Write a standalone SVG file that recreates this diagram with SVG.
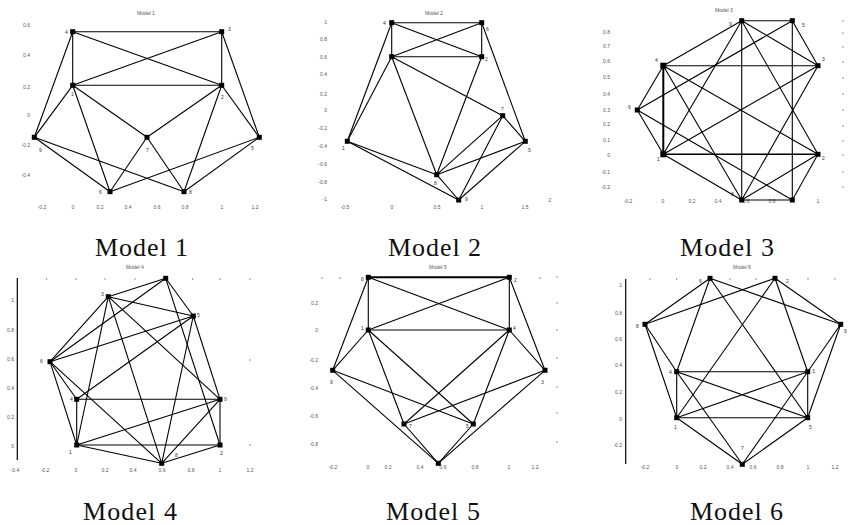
<svg xmlns="http://www.w3.org/2000/svg" width="856" height="525" viewBox="0 0 856 525">
<style>
.e{stroke:#000;stroke-width:1.1;fill:none}
.th{stroke-width:2}
.n rect{fill:#000}
.l{font-family:"Liberation Sans",Arial,sans-serif;font-size:5px;fill:#333}
.tl{font-family:"Liberation Sans",Arial,sans-serif;font-size:5px;fill:#555;text-anchor:middle}
.yl{font-family:"Liberation Sans",Arial,sans-serif;font-size:5px;fill:#555;text-anchor:end}
.cap{font-family:"Liberation Serif","DejaVu Serif",serif;font-size:26px;fill:#111}
.ax{stroke:#000;stroke-width:1.2}
.tk{stroke:#777;stroke-width:0.8}
</style>
<rect width="856" height="525" fill="#fff"/>

<!-- ===== Axes / ticks ===== -->
<g id="axes">
  <!-- Model 1 -->
  <text class="tl" x="146" y="15">Model 1</text>
  <g class="yl"><text x="30" y="27">0.6</text><text x="30" y="57">0.4</text><text x="30" y="89">0.2</text><text x="30" y="117">0</text><text x="30" y="147">-0.2</text><text x="30" y="177">-0.4</text></g>
  <g class="tl"><text x="42" y="209">-0.2</text><text x="73" y="209">0</text><text x="100" y="209">0.2</text><text x="128" y="209">0.4</text><text x="157" y="209">0.6</text><text x="185" y="209">0.8</text><text x="222" y="209">1</text><text x="255" y="209">1.2</text></g>
  <!-- Model 2 -->
  <text class="tl" x="434" y="15">Model 2</text>
  <g class="yl"><text x="327" y="24">1</text><text x="327" y="41">0.8</text><text x="327" y="59">0.6</text><text x="327" y="76">0.4</text><text x="327" y="96">0.2</text><text x="327" y="112">0</text><text x="327" y="130">-0.2</text><text x="327" y="148">-0.4</text><text x="327" y="166">-0.6</text><text x="327" y="184">-0.8</text><text x="327" y="201">-1</text></g>
  <g class="tl"><text x="345" y="209">-0.5</text><text x="392" y="209">0</text><text x="437" y="209">0.5</text><text x="482" y="209">1</text><text x="525" y="209">1.5</text><text x="550" y="202">2</text></g>
  <!-- Model 3 -->
  <text class="tl" x="724" y="12">Model 3</text>
  <g class="yl"><text x="610" y="34">0.8</text><text x="610" y="48">0.7</text><text x="610" y="63">0.6</text><text x="610" y="79">0.5</text><text x="610" y="96">0.4</text><text x="610" y="112">0.3</text><text x="610" y="126">0.2</text><text x="610" y="142">0.1</text><text x="610" y="157">0</text><text x="610" y="174">-0.1</text><text x="610" y="189">-0.2</text></g>
  <g class="tl"><text x="628" y="203">-0.2</text><text x="663" y="203">0</text><text x="692" y="203">0.2</text><text x="718" y="203">0.4</text><text x="746" y="203">0.6</text><text x="772" y="203">0.8</text><text x="818" y="203">1</text></g>
  <g class="tk"><line x1="842" y1="21" x2="844" y2="21"/><line x1="842" y1="33" x2="844" y2="33"/><line x1="842" y1="47" x2="844" y2="47"/><line x1="842" y1="62" x2="844" y2="62"/><line x1="842" y1="78" x2="844" y2="78"/><line x1="842" y1="94" x2="844" y2="94"/><line x1="842" y1="110" x2="844" y2="110"/><line x1="842" y1="126" x2="844" y2="126"/><line x1="842" y1="141" x2="844" y2="141"/><line x1="842" y1="155" x2="844" y2="155"/><line x1="842" y1="172" x2="844" y2="172"/><line x1="842" y1="187" x2="844" y2="187"/></g>
  <!-- Model 4 -->
  <text class="tl" x="135" y="269">Model 4</text>
  <line class="ax" x1="17.3" y1="278" x2="17.3" y2="460"/>
  <g class="yl"><text x="14" y="302">1</text><text x="14" y="332">0.8</text><text x="14" y="361">0.6</text><text x="14" y="390">0.4</text><text x="14" y="419">0.2</text><text x="14" y="448">0</text></g>
  <g class="tl"><text x="15" y="472">-0.4</text><text x="45" y="472">-0.2</text><text x="76" y="472">0</text><text x="105" y="472">0.2</text><text x="133" y="472">0.4</text><text x="162" y="472">0.6</text><text x="191" y="472">0.8</text><text x="220" y="472">1</text><text x="250" y="472">1.2</text></g>
  <g class="tk"><line x1="46.7" y1="278" x2="46.7" y2="280"/><line x1="76" y1="278" x2="76" y2="280"/><line x1="105" y1="278" x2="105" y2="280"/><line x1="135" y1="278" x2="135" y2="280"/><line x1="192.7" y1="278" x2="192.7" y2="280"/><line x1="220" y1="278" x2="220" y2="280"/><line x1="250" y1="278" x2="250" y2="280"/><line x1="249" y1="360" x2="251" y2="360"/><line x1="249" y1="445" x2="251" y2="445"/></g>
  <!-- Model 5 -->
  <text class="tl" x="438" y="269">Model 5</text>
  <g class="yl"><text x="318" y="305">0.2</text><text x="318" y="332">0</text><text x="318" y="362">-0.2</text><text x="318" y="390">-0.4</text><text x="318" y="418">-0.6</text><text x="318" y="446">-0.8</text></g>
  <g class="tl"><text x="333" y="469">-0.2</text><text x="368" y="469">0</text><text x="388" y="469">0.2</text><text x="420" y="469">0.4</text><text x="443" y="469">0.6</text><text x="475" y="469">0.8</text><text x="509" y="469">1</text><text x="535" y="469">1.2</text></g>
  <g class="tk"><line x1="322" y1="277" x2="322" y2="279"/><line x1="340" y1="277" x2="340" y2="279"/><line x1="540" y1="277" x2="540" y2="279"/><line x1="556" y1="277" x2="558" y2="277"/><line x1="556" y1="303" x2="558" y2="303"/><line x1="556" y1="330" x2="558" y2="330"/><line x1="556" y1="358" x2="558" y2="358"/><line x1="556" y1="387" x2="558" y2="387"/><line x1="556" y1="413" x2="558" y2="413"/><line x1="556" y1="442" x2="558" y2="442"/></g>
  <!-- Model 6 -->
  <text class="tl" x="742" y="269">Model 6</text>
  <line class="ax" x1="625.7" y1="279" x2="625.7" y2="464"/>
  <g class="yl"><text x="622" y="287">1</text><text x="622" y="315">0.8</text><text x="622" y="341">0.6</text><text x="622" y="367">0.4</text><text x="622" y="394">0.2</text><text x="622" y="421">0</text><text x="622" y="447">-0.2</text></g>
  <g class="tl"><text x="645" y="469">-0.2</text><text x="677" y="469">0</text><text x="703" y="469">0.2</text><text x="730" y="469">0.4</text><text x="753" y="469">0.6</text><text x="780" y="469">0.8</text><text x="808" y="469">1</text><text x="835" y="469">1.2</text></g>
  <g class="tk"><line x1="650" y1="278" x2="650" y2="280"/><line x1="676.7" y1="278" x2="676.7" y2="280"/><line x1="730" y1="278" x2="730" y2="280"/><line x1="756" y1="278" x2="756" y2="280"/><line x1="808" y1="278" x2="808" y2="280"/><line x1="835" y1="278" x2="835" y2="280"/></g>
</g>

<!-- ===== Connectors ===== -->
<g id="connectors" class="e">
  <!-- Model 1 -->
  <line x1="72.7" y1="31.7" x2="221.7" y2="31.7"/>
  <line x1="72.7" y1="31.7" x2="72.7" y2="85.3"/>
  <line x1="221.7" y1="31.7" x2="221.7" y2="85.3"/>
  <line x1="72.7" y1="85.3" x2="221.7" y2="85.3"/>
  <line x1="72.7" y1="31.7" x2="221.7" y2="85.3"/>
  <line x1="221.7" y1="31.7" x2="72.7" y2="85.3"/>
  <line x1="72.7" y1="31.7" x2="34.3" y2="137.3"/>
  <line x1="221.7" y1="31.7" x2="259.3" y2="137.3"/>
  <line x1="72.7" y1="85.3" x2="34.3" y2="137.3"/>
  <line x1="72.7" y1="85.3" x2="110" y2="191.7"/>
  <line x1="72.7" y1="85.3" x2="147" y2="137.3"/>
  <line x1="221.7" y1="85.3" x2="147" y2="137.3"/>
  <line x1="221.7" y1="85.3" x2="184" y2="191.7"/>
  <line x1="221.7" y1="85.3" x2="259.3" y2="137.3"/>
  <line x1="34.3" y1="137.3" x2="110" y2="191.7"/>
  <line x1="34.3" y1="137.3" x2="184" y2="191.7"/>
  <line x1="259.3" y1="137.3" x2="110" y2="191.7"/>
  <line x1="259.3" y1="137.3" x2="184" y2="191.7"/>
  <line x1="147" y1="137.3" x2="110" y2="191.7"/>
  <line x1="147" y1="137.3" x2="184" y2="191.7"/>
  <!-- Model 2 -->
  <line x1="391.7" y1="22.7" x2="481.7" y2="22.7"/>
  <line x1="391.7" y1="22.7" x2="391.7" y2="56.7"/>
  <line x1="481.7" y1="22.7" x2="481.7" y2="56.7"/>
  <line x1="391.7" y1="56.7" x2="481.7" y2="56.7"/>
  <line x1="391.7" y1="22.7" x2="481.7" y2="56.7"/>
  <line x1="481.7" y1="22.7" x2="391.7" y2="56.7"/>
  <line x1="391.7" y1="22.7" x2="347.3" y2="141.3"/>
  <line x1="391.7" y1="56.7" x2="347.3" y2="141.3"/>
  <line x1="481.7" y1="22.7" x2="525.3" y2="141.3"/>
  <line x1="391.7" y1="56.7" x2="436.7" y2="174.7"/>
  <line x1="391.7" y1="56.7" x2="502.7" y2="115.7"/>
  <line x1="481.7" y1="56.7" x2="436.7" y2="174.7"/>
  <line x1="347.3" y1="141.3" x2="436.7" y2="174.7"/>
  <line x1="347.3" y1="141.3" x2="458.7" y2="200"/>
  <line x1="436.7" y1="174.7" x2="458.7" y2="200"/>
  <line x1="436.7" y1="174.7" x2="502.7" y2="115.7"/>
  <line x1="436.7" y1="174.7" x2="525.3" y2="141.3"/>
  <line x1="502.7" y1="115.7" x2="525.3" y2="141.3"/>
  <line x1="502.7" y1="115.7" x2="458.7" y2="200"/>
  <line x1="525.3" y1="141.3" x2="458.7" y2="200"/>
  <!-- Model 3 -->
  <line x1="741.7" y1="20.7" x2="792.3" y2="20.7"/>
  <line x1="741.7" y1="200" x2="792.3" y2="200"/>
  <line x1="663.3" y1="65.7" x2="818" y2="65.7"/>
  <line x1="663.3" y1="154.3" x2="818" y2="154.3" style="stroke-width:1.6"/>
  <line class="th" x1="663.3" y1="65.7" x2="663.3" y2="154.3"/>
  <line x1="741.7" y1="20.7" x2="741.7" y2="200"/>
  <line x1="792.3" y1="20.7" x2="792.3" y2="200"/>
  <line x1="741.7" y1="20.7" x2="663.3" y2="65.7"/>
  <line x1="741.7" y1="200" x2="663.3" y2="154.3"/>
  <line x1="792.3" y1="20.7" x2="818" y2="65.7"/>
  <line x1="792.3" y1="200" x2="818" y2="154.3"/>
  <line x1="741.7" y1="20.7" x2="818" y2="65.7"/>
  <line x1="741.7" y1="200" x2="818" y2="154.3"/>
  <line x1="792.3" y1="20.7" x2="637.3" y2="110"/>
  <line x1="792.3" y1="200" x2="637.3" y2="110"/>
  <line x1="741.7" y1="20.7" x2="663.3" y2="154.3"/>
  <line x1="741.7" y1="200" x2="663.3" y2="65.7"/>
  <line x1="741.7" y1="20.7" x2="818" y2="154.3"/>
  <line x1="741.7" y1="200" x2="818" y2="65.7"/>
  <line x1="663.3" y1="65.7" x2="637.3" y2="110"/>
  <line x1="663.3" y1="154.3" x2="637.3" y2="110"/>
  <line x1="663.3" y1="65.7" x2="818" y2="154.3"/>
  <line x1="663.3" y1="154.3" x2="818" y2="65.7"/>
  <!-- Model 4 -->
  <line x1="165.7" y1="278.3" x2="108.3" y2="296.7"/>
  <line x1="108.3" y1="296.7" x2="50" y2="361.7"/>
  <line x1="165.7" y1="278.3" x2="50" y2="361.7"/>
  <line x1="50" y1="361.7" x2="193.3" y2="316"/>
  <line x1="108.3" y1="296.7" x2="193.3" y2="316"/>
  <line x1="165.7" y1="278.3" x2="193.3" y2="316"/>
  <line x1="193.3" y1="316" x2="220" y2="399.3"/>
  <line x1="76.7" y1="399.3" x2="193.3" y2="316"/>
  <line x1="193.3" y1="316" x2="161.7" y2="463.3"/>
  <line x1="108.3" y1="296.7" x2="76.7" y2="445"/>
  <line x1="108.3" y1="296.7" x2="161.7" y2="463.3"/>
  <line x1="108.3" y1="296.7" x2="220" y2="399.3"/>
  <line x1="165.7" y1="278.3" x2="220" y2="445"/>
  <line x1="50" y1="361.7" x2="76.7" y2="399.3"/>
  <line x1="50" y1="361.7" x2="76.7" y2="445"/>
  <line x1="50" y1="361.7" x2="161.7" y2="463.3"/>
  <line x1="76.7" y1="399.3" x2="220" y2="399.3"/>
  <line x1="76.7" y1="399.3" x2="76.7" y2="445"/>
  <line x1="76.7" y1="445" x2="220" y2="445"/>
  <line x1="220" y1="399.3" x2="220" y2="445"/>
  <line x1="76.7" y1="445" x2="220" y2="399.3"/>
  <line x1="76.7" y1="445" x2="161.7" y2="463.3"/>
  <line x1="220" y1="445" x2="161.7" y2="463.3"/>
  <line x1="220" y1="399.3" x2="161.7" y2="463.3"/>
  <!-- Model 5 -->
  <line class="th" x1="368.3" y1="277.3" x2="509.3" y2="277.3"/>
  <line x1="368.3" y1="277.3" x2="368.3" y2="330"/>
  <line x1="509.3" y1="277.3" x2="509.3" y2="330"/>
  <line x1="368.3" y1="330" x2="509.3" y2="330"/>
  <line x1="368.3" y1="277.3" x2="509.3" y2="330"/>
  <line x1="509.3" y1="277.3" x2="368.3" y2="330"/>
  <line x1="368.3" y1="277.3" x2="332.7" y2="370.3"/>
  <line x1="509.3" y1="277.3" x2="545" y2="370.3"/>
  <line x1="368.3" y1="330" x2="332.7" y2="370.3"/>
  <line x1="509.3" y1="330" x2="545" y2="370.3"/>
  <line x1="368.3" y1="330" x2="404" y2="424"/>
  <line x1="368.3" y1="330" x2="473.3" y2="424"/>
  <line x1="509.3" y1="330" x2="404" y2="424"/>
  <line x1="509.3" y1="330" x2="473.3" y2="424"/>
  <line x1="332.7" y1="370.3" x2="473.3" y2="424"/>
  <line x1="332.7" y1="370.3" x2="438.3" y2="463.3"/>
  <line x1="545" y1="370.3" x2="404" y2="424"/>
  <line x1="545" y1="370.3" x2="438.3" y2="463.3"/>
  <line x1="404" y1="424" x2="438.3" y2="463.3"/>
  <line x1="473.3" y1="424" x2="438.3" y2="463.3"/>
  <!-- Model 6 -->
  <line x1="676.7" y1="371.7" x2="807.7" y2="371.7"/>
  <line x1="676.7" y1="417.7" x2="807.7" y2="417.7"/>
  <line x1="676.7" y1="371.7" x2="676.7" y2="417.7"/>
  <line x1="807.7" y1="371.7" x2="807.7" y2="417.7"/>
  <line x1="676.7" y1="371.7" x2="807.7" y2="417.7"/>
  <line x1="676.7" y1="417.7" x2="807.7" y2="371.7"/>
  <line x1="645" y1="324.3" x2="710" y2="278.3"/>
  <line x1="645" y1="324.3" x2="775" y2="278.3"/>
  <line x1="840.7" y1="324.3" x2="710" y2="278.3"/>
  <line x1="840.7" y1="324.3" x2="775" y2="278.3"/>
  <line x1="710" y1="278.3" x2="676.7" y2="371.7"/>
  <line x1="710" y1="278.3" x2="807.7" y2="417.7"/>
  <line x1="775" y1="278.3" x2="807.7" y2="371.7"/>
  <line x1="775" y1="278.3" x2="676.7" y2="417.7"/>
  <line x1="645" y1="324.3" x2="676.7" y2="371.7"/>
  <line x1="645" y1="324.3" x2="676.7" y2="417.7"/>
  <line x1="840.7" y1="324.3" x2="807.7" y2="371.7"/>
  <line x1="840.7" y1="324.3" x2="807.7" y2="417.7"/>
  <line x1="742.3" y1="464.3" x2="676.7" y2="417.7"/>
  <line x1="742.3" y1="464.3" x2="807.7" y2="417.7"/>
  <line x1="742.3" y1="464.3" x2="676.7" y2="371.7"/>
  <line x1="742.3" y1="464.3" x2="807.7" y2="371.7"/>
</g>

<!-- ===== Nodes ===== -->
<g id="model1-nodes" class="n">
  <g id="m1-4"><rect x="70.2" y="29.2" width="5" height="5"/><text class="l" x="65" y="34">4</text></g>
  <g id="m1-3"><rect x="219.2" y="29.2" width="5" height="5"/><text class="l" x="228" y="31">3</text></g>
  <g id="m1-1"><rect x="70.2" y="82.8" width="5" height="5"/><text class="l" x="71" y="96">1</text></g>
  <g id="m1-2"><rect x="219.2" y="82.8" width="5" height="5"/><text class="l" x="221" y="99">2</text></g>
  <g id="m1-9"><rect x="31.8" y="134.8" width="5" height="5"/><text class="l" x="39" y="152">9</text></g>
  <g id="m1-7"><rect x="144.5" y="134.8" width="5" height="5"/><text class="l" x="146" y="152">7</text></g>
  <g id="m1-5"><rect x="256.8" y="134.8" width="5" height="5"/><text class="l" x="251" y="150">5</text></g>
  <g id="m1-6"><rect x="107.5" y="189.2" width="5" height="5"/><text class="l" x="99" y="194">6</text></g>
  <g id="m1-8"><rect x="181.5" y="189.2" width="5" height="5"/><text class="l" x="189" y="194">8</text></g>
</g>
<g id="model2-nodes" class="n">
  <g id="m2-4"><rect x="389.2" y="20.2" width="5" height="5"/><text class="l" x="383" y="25">4</text></g>
  <g id="m2-6"><rect x="479.2" y="20.2" width="5" height="5"/><text class="l" x="486" y="31">6</text></g>
  <g id="m2-3"><rect x="389.2" y="54.2" width="5" height="5"/></g>
  <g id="m2-2"><rect x="479.2" y="54.2" width="5" height="5"/><text class="l" x="485" y="61">2</text></g>
  <g id="m2-7"><rect x="500.2" y="113.2" width="5" height="5"/><text class="l" x="501" y="111">7</text></g>
  <g id="m2-5"><rect x="522.8" y="138.8" width="5" height="5"/><text class="l" x="528" y="152">5</text></g>
  <g id="m2-1"><rect x="344.8" y="138.8" width="5" height="5"/><text class="l" x="342" y="150">1</text></g>
  <g id="m2-8"><rect x="434.2" y="172.2" width="5" height="5"/><text class="l" x="434" y="185">8</text></g>
  <g id="m2-9"><rect x="456.2" y="197.5" width="5" height="5"/><text class="l" x="465" y="201">9</text></g>
</g>
<g id="model3-nodes" class="n">
  <g id="m3-9"><rect x="739.2" y="18.2" width="5" height="5"/><text class="l" x="729" y="26">9</text></g>
  <g id="m3-5"><rect x="789.8" y="18.2" width="5" height="5"/><text class="l" x="802" y="27">5</text></g>
  <g id="m3-4"><rect x="660.3" y="62.7" width="6" height="6"/><text class="l" x="655" y="62">4</text></g>
  <g id="m3-3"><rect x="815.5" y="63.2" width="5" height="5"/><text class="l" x="822" y="61">3</text></g>
  <g id="m3-6"><rect x="634.8" y="107.5" width="5" height="5"/><text class="l" x="628" y="109">6</text></g>
  <g id="m3-1"><rect x="660.3" y="151.3" width="6" height="6"/><text class="l" x="657" y="161">1</text></g>
  <g id="m3-2"><rect x="815.5" y="151.8" width="5" height="5"/><text class="l" x="822" y="160">2</text></g>
  <g id="m3-8"><rect x="739.2" y="197.5" width="5" height="5"/><text class="l" x="731" y="196">8</text></g>
  <g id="m3-7"><rect x="789.8" y="197.5" width="5" height="5"/></g>
</g>
<g id="model4-nodes" class="n">
  <g id="m4-7"><rect x="163.2" y="275.8" width="5" height="5"/></g>
  <g id="m4-3"><rect x="105.8" y="294.2" width="5" height="5"/><text class="l" x="101" y="296">3</text></g>
  <g id="m4-5"><rect x="190.8" y="313.5" width="5" height="5"/><text class="l" x="197" y="317">5</text></g>
  <g id="m4-6"><rect x="47.5" y="359.2" width="5" height="5"/><text class="l" x="40" y="363">6</text></g>
  <g id="m4-4"><rect x="74.2" y="396.8" width="5" height="5"/><text class="l" x="70" y="401">4</text></g>
  <g id="m4-9"><rect x="217.5" y="396.8" width="5" height="5"/><text class="l" x="224" y="401">9</text></g>
  <g id="m4-1"><rect x="74.2" y="442.5" width="5" height="5"/><text class="l" x="69" y="454">1</text></g>
  <g id="m4-2"><rect x="217.5" y="442.5" width="5" height="5"/><text class="l" x="220" y="455">2</text></g>
  <g id="m4-8"><rect x="159.2" y="460.8" width="5" height="5"/><text class="l" x="175" y="457">8</text></g>
</g>
<g id="model5-nodes" class="n">
  <g id="m5-6"><rect x="365.8" y="274.8" width="5" height="5"/><text class="l" x="361" y="281">6</text></g>
  <g id="m5-2"><rect x="506.8" y="274.8" width="5" height="5"/><text class="l" x="514" y="282">2</text></g>
  <g id="m5-1"><rect x="365.8" y="327.5" width="5" height="5"/><text class="l" x="361" y="330">1</text></g>
  <g id="m5-4"><rect x="506.8" y="327.5" width="5" height="5"/><text class="l" x="513" y="330">4</text></g>
  <g id="m5-9"><rect x="330.2" y="367.8" width="5" height="5"/><text class="l" x="330" y="384">9</text></g>
  <g id="m5-3"><rect x="542.5" y="367.8" width="5" height="5"/><text class="l" x="541" y="384">3</text></g>
  <g id="m5-7"><rect x="401.5" y="421.5" width="5" height="5"/><text class="l" x="409" y="428">7</text></g>
  <g id="m5-5"><rect x="470.8" y="421.5" width="5" height="5"/><text class="l" x="466" y="428">5</text></g>
  <g id="m5-8"><rect x="435.8" y="460.8" width="5" height="5"/></g>
</g>
<g id="model6-nodes" class="n">
  <g id="m6-6"><rect x="707.5" y="275.8" width="5" height="5"/><text class="l" x="699" y="283">6</text></g>
  <g id="m6-2"><rect x="772.5" y="275.8" width="5" height="5"/><text class="l" x="786" y="283">2</text></g>
  <g id="m6-8"><rect x="642.5" y="321.8" width="5" height="5"/><text class="l" x="636" y="328">8</text></g>
  <g id="m6-9"><rect x="838.2" y="321.8" width="5" height="5"/><text class="l" x="844" y="333">9</text></g>
  <g id="m6-4"><rect x="674.2" y="369.2" width="5" height="5"/><text class="l" x="669" y="374">4</text></g>
  <g id="m6-3"><rect x="805.2" y="369.2" width="5" height="5"/><text class="l" x="812" y="373">3</text></g>
  <g id="m6-1"><rect x="674.2" y="415.2" width="5" height="5"/><text class="l" x="674" y="429">1</text></g>
  <g id="m6-5"><rect x="805.2" y="415.2" width="5" height="5"/><text class="l" x="809" y="429">5</text></g>
  <g id="m6-7"><rect x="739.8" y="461.8" width="5" height="5"/><text class="l" x="741" y="450">7</text></g>
</g>

<!-- ===== Captions ===== -->
<g id="captions" class="cap">
  <text x="95" y="256" textLength="93">Model 1</text>
  <text x="388" y="256" textLength="93">Model 2</text>
  <text x="680" y="256" textLength="94">Model 3</text>
  <text x="83" y="520" textLength="94">Model 4</text>
  <text x="386" y="520" textLength="94">Model 5</text>
  <text x="690" y="520" textLength="93">Model 6</text>
</g>
</svg>
